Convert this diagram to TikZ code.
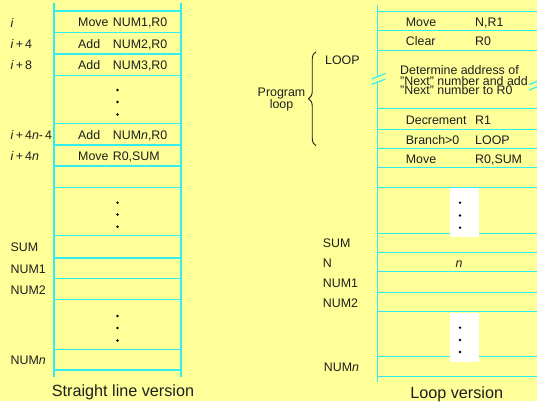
\documentclass[tikz,border=0pt]{standalone}
\usepackage{fontspec}
\setmainfont{Liberation Sans}
\usetikzlibrary{decorations.pathreplacing}
\definecolor{bg}{RGB}{255,255,153}
\definecolor{ln}{RGB}{51,238,238}
\definecolor{tx}{RGB}{30,30,30}
\begin{document}
\begin{tikzpicture}[x=1pt,y=-1pt,
  lbl/.style={anchor=base west, inner sep=0pt, font=\fontsize{12.4}{13}\selectfont, text=tx},
  ctr/.style={anchor=base, inner sep=0pt, font=\fontsize{12.4}{13}\selectfont, text=tx},
  captxt/.style={anchor=base, inner sep=0pt, font=\fontsize{16.2}{18}\selectfont, text=tx},
  gridline/.style={draw=ln, line width=1.5pt},
  dotmark/.style={fill=black, radius=1.3}]
\fill[bg] (0,0) rectangle (537,401);
\useasboundingbox (0,0) rectangle (537,401);
\clip (0,0) rectangle (537,401);

% ---------- Straight line version ----------
\foreach \y in {11,32.7,54,75.3,123.3,145,166,187.3,235.7,258,278.7,299.3,349.3,370}
  \draw[gridline] (54,\y) -- (181,\y);
\draw[gridline] (54,3) -- (54,377);
\draw[gridline] (181,3) -- (181,377);

\node[lbl] (a1) at (78,27) {Move};     \node[lbl] (b1) at (112.7,27) {NUM1,R0};
\node[lbl] (a2) at (78,48.5) {Add};    \node[lbl] (b2) at (112.7,48.5) {NUM2,R0};
\node[lbl] (a3) at (78,69.7) {Add};    \node[lbl] (b3) at (112.7,69.7) {NUM3,R0};
\node[lbl] (a4) at (78,139.2) {Add};   \node[lbl] (b4) at (112.7,139.2) {NUM\textit{n},R0};
\node[lbl] (a5) at (78,160.5) {Move};  \node[lbl] (b5) at (112.7,160.5) {R0,SUM};

\foreach \y in {90,102,114.5,202.7,214.5,226.7,316,328,340.5}
  \fill[black] (117.5,\y) circle[radius=1.3];

\node[lbl] (l1) at (10.5,27.5) {\textit{i}};
\node[lbl] (l2) at (10.5,48.5) {\textit{i}\,+\,4};
\node[lbl] (l3) at (10.5,69.7) {\textit{i}\,+\,8};
\node[lbl] (l4) at (10.5,139.2) {\textit{i}\,+\,4\textit{n}-\,4};
\node[lbl] (l5) at (10.5,160.5) {\textit{i}\,+\,4\textit{n}};
\node[lbl] (l6) at (10.5,251.8) {SUM};
\node[lbl] (l7) at (10.5,273.3) {NUM1};
\node[lbl] (l8) at (10.5,294) {NUM2};
\node[lbl] (l9) at (10.5,364.7) {NUM\textit{n}};

\node[captxt] (c1) at (123,396) {Straight line version};

% ---------- Loop version ----------
\foreach \y in {11.7,30.7,50.7,108.7,129.3,148.7,167.7,187.7,233.3,252.3,271.7,292.3,311.7,356.7,376.7}
  \draw[gridline] (377.3,\y) -- (537,\y);
\draw[gridline] (377.3,5) -- (377.3,76.5);
\draw[gridline] (377.3,81.5) -- (377.3,381.7);
\draw[gridline, line width=1.2pt] (371.5,79) -- (385.5,73.5);
\draw[gridline, line width=1.2pt] (371.5,84.5) -- (385.5,79);
\draw[gridline, line width=1.2pt] (529,84.5) -- (543,79);
\draw[gridline, line width=1.2pt] (529,90) -- (543,84.5);

\node[lbl] (m1) at (405.7,26.5) {Move};      \node[lbl] (n1) at (475,26.5) {N,R1};
\node[lbl] (m2) at (405.7,45.8) {Clear};     \node[lbl] (n2) at (475,45.8) {R0};
\node[lbl] (d1) at (400,75) {Determine address of};
\node[lbl] (d2) at (400,85) {"Next" number and add};
\node[lbl] (d3) at (400,95) {"Next" number to R0};
\node[lbl] (m3) at (405.7,124) {Decrement};  \node[lbl] (n3) at (475,124) {R1};
\node[lbl] (m4) at (405.7,144) {Branch>0};   \node[lbl] (n4) at (475,144) {LOOP};
\node[lbl] (m5) at (405.7,163.3) {Move};     \node[lbl] (n5) at (475,163.3) {R0,SUM};
\node[ctr] (nv) at (459,267) {\textit{n}};

\fill[white] (450,188) rectangle (479,237.3);
\fill[white] (450,313.3) rectangle (479,361.7);
\foreach \y in {202.7,215.5,227.7,327.7,340,352}
  \fill[black] (460,\y) circle[radius=1.3];

\node[lbl] (r1) at (322.7,247.8) {SUM};
\node[lbl] (r2) at (322.7,267) {N};
\node[lbl] (r3) at (322.7,287) {NUM1};
\node[lbl] (r4) at (322.7,307) {NUM2};
\node[lbl] (r5) at (323.7,371.7) {NUM\textit{n}};

\node[lbl] (lp) at (325,65) {LOOP};
\node[ctr] (p1) at (281.5,96) {Program};
\node[ctr] (p2) at (281.5,108.7) {loop};
\draw[tx, line width=0.9pt, decorate, decoration={brace, amplitude=7.5pt}] (316,145.7) -- (316,51.7);

\node[captxt] (c2) at (456.7,398) {Loop version};
\end{tikzpicture}
\end{document}
